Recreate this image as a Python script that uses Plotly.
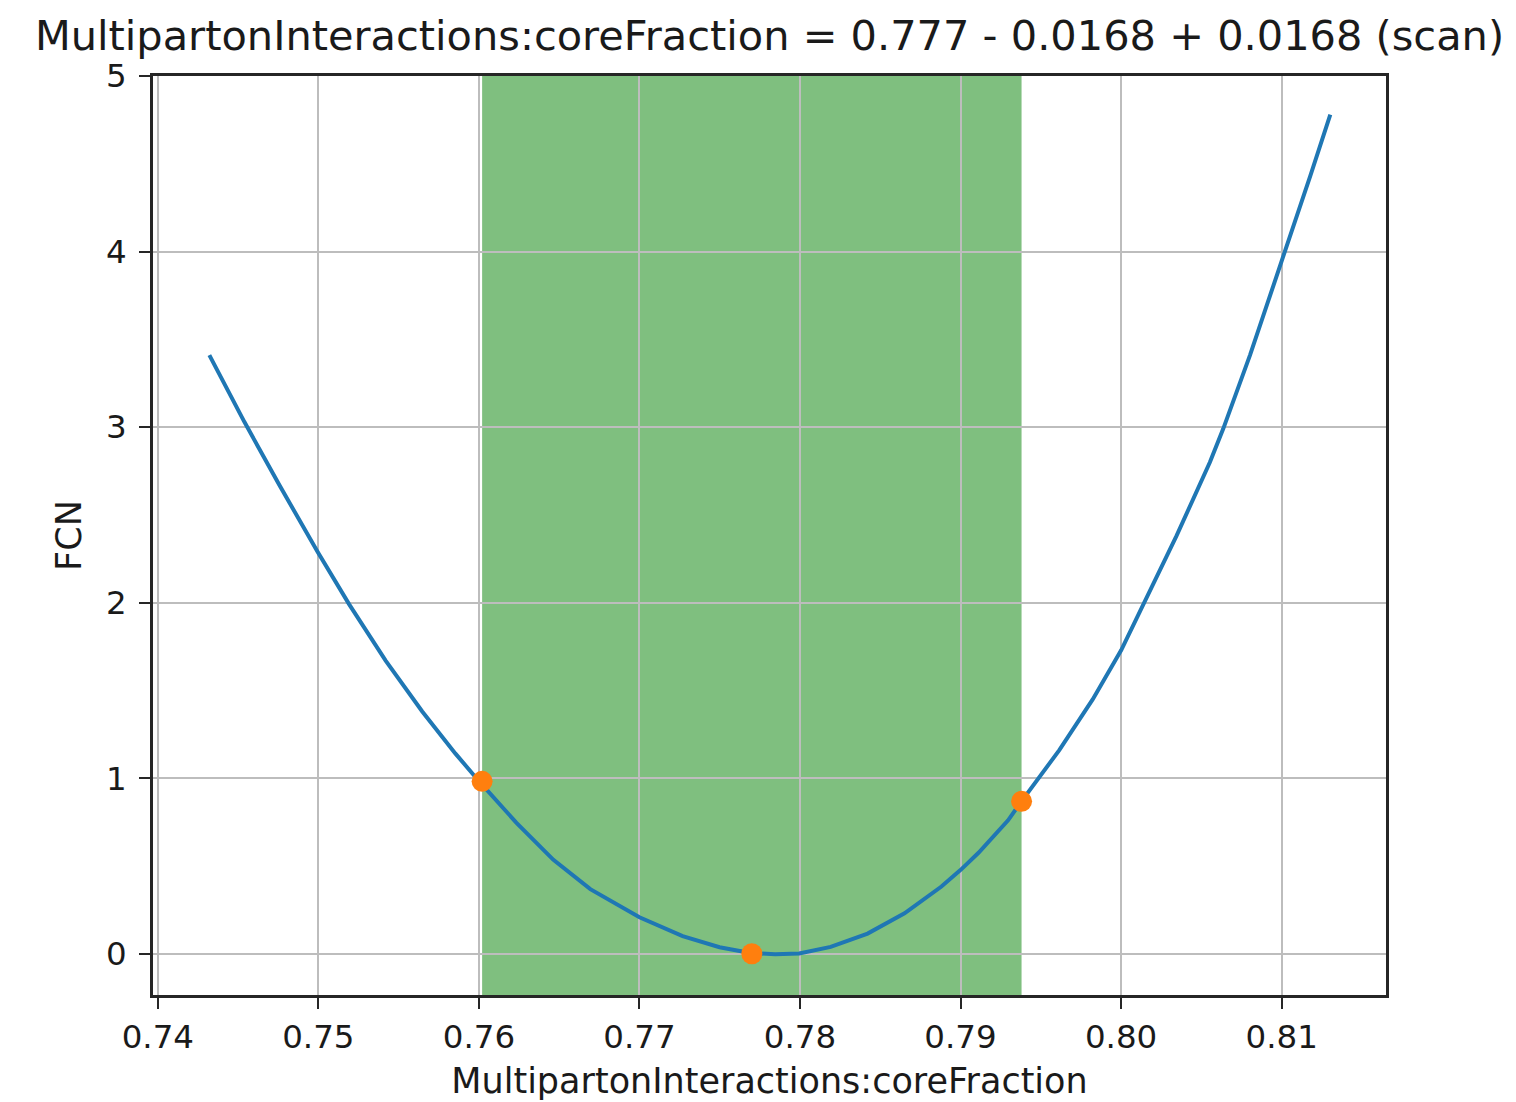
import plotly.graph_objects as go

# Likelihood scan of MultipartonInteractions:coreFraction
scan_x = [0.74321, 0.74539, 0.74757, 0.74995, 0.75192, 0.75419, 0.75647, 0.75854,
          0.76003, 0.76234, 0.76464, 0.76694, 0.77000, 0.77269, 0.77499, 0.77691,
          0.77845, 0.77995, 0.78191, 0.78421, 0.78651, 0.78881, 0.79001, 0.79112,
          0.79296, 0.79377, 0.79615, 0.79824, 0.80001, 0.80136, 0.80345, 0.80553,
          0.80636, 0.80803, 0.81000, 0.81178, 0.81303]
scan_fcn = [3.41, 3.03, 2.67, 2.29, 1.99, 1.67, 1.38, 1.14,
            0.98, 0.746, 0.535, 0.368, 0.208, 0.100, 0.037, 0.004,
            -0.003, 0.001, 0.039, 0.115, 0.230, 0.383, 0.478, 0.575,
            0.76, 0.865, 1.16, 1.45, 1.73, 1.98, 2.38, 2.80,
            2.99, 3.41, 3.94, 4.43, 4.78]

# Best value and the lower/upper ends of the interval
central = 0.777
err_down = 0.0168
err_up = 0.0168
marker_x = [0.7602, 0.7770, 0.7938]
marker_fcn = [0.982, 0.0, 0.868]

x_ticks = [0.74, 0.75, 0.76, 0.77, 0.78, 0.79, 0.80, 0.81]
y_ticks = [0, 1, 2, 3, 4, 5]

param_name = "MultipartonInteractions:coreFraction"
title_text = f"{param_name} = {central:.3f} - {err_down:.4f} + {err_up:.4f} (scan)"

FONT = "DejaVu Sans"
SPINE = "#262626"
TEXT = "#1a1a1a"

fig = go.Figure()

fig.add_trace(go.Scatter(
    x=scan_x, y=scan_fcn, mode="lines",
    line=dict(color="#1f77b4", width=4),
    showlegend=False,
))
fig.add_trace(go.Scatter(
    x=marker_x, y=marker_fcn, mode="markers",
    marker=dict(color="#ff7f0e", size=21, line=dict(width=0)),
    showlegend=False,
))

# Shaded uncertainty band
fig.add_shape(
    type="rect", xref="x", yref="paper",
    x0=central - err_down, x1=central + err_up, y0=0, y1=1,
    fillcolor="rgba(0,128,0,0.5)", line=dict(width=0), layer="below",
)

axis_common = dict(
    showline=True, linecolor=SPINE, linewidth=2.6, mirror=True,
    ticks="outside", ticklen=11, tickwidth=2.4, tickcolor=SPINE,
    showgrid=True, gridcolor="#bdbdbd", gridwidth=2.4,
    zeroline=False, automargin=False,
    tickfont=dict(family=FONT, size=32.5, color=TEXT),
)

fig.update_xaxes(
    range=[0.7397, 0.8165], tickvals=x_ticks, tickformat=".2f",
    title=dict(text=param_name, font=dict(family=FONT, size=35, color=TEXT), standoff=14),
    **axis_common,
)
fig.update_yaxes(
    range=[-0.235, 5.0], tickvals=y_ticks, ticklabelstandoff=6,
    title=dict(text="FCN", font=dict(family=FONT, size=35, color=TEXT), standoff=14),
    **axis_common,
)

fig.update_layout(
    width=1516, height=1102,
    margin=dict(l=153, r=130, t=76, b=107),
    paper_bgcolor="white", plot_bgcolor="white",
    title=dict(text=title_text, x=0.5, xref="paper", xanchor="center",
               y=1 - 35 / 1102, yanchor="middle", automargin=False,
               font=dict(family=FONT, size=41.5, color=TEXT)),
)

fig.write_html("out.html")
